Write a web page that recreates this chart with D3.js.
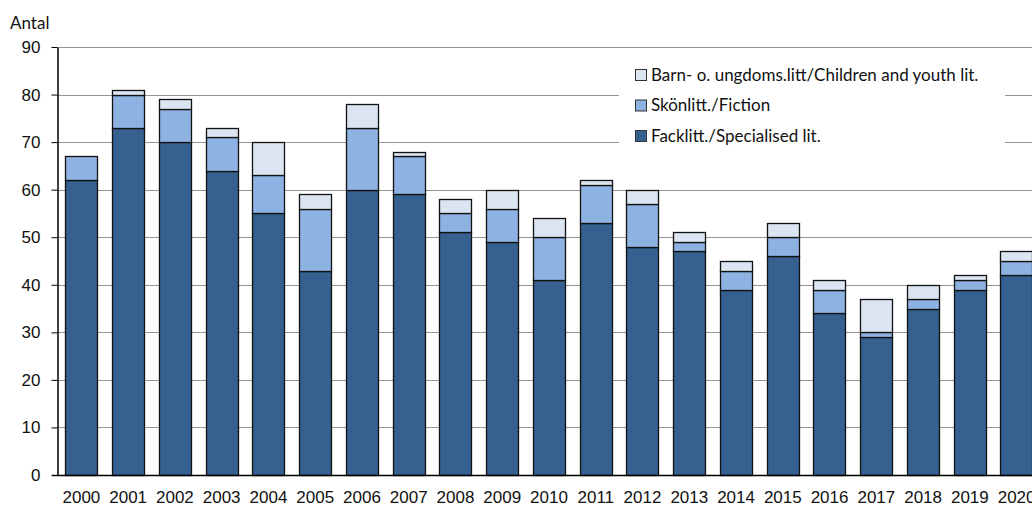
<!DOCTYPE html>
<html>
<head>
<meta charset="utf-8">
<script src="https://cdn.jsdelivr.net/npm/d3@7"></script>
<style>
  body { margin: 0; background: #fff; }
  svg { display: block; font-family: Lato, "Open Sans", sans-serif; }
</style>
</head>
<body>
<script>
// data
var years = ["2000","2001","2002","2003","2004","2005","2006","2007","2008","2009","2010",
             "2011","2012","2013","2014","2015","2016","2017","2018","2019","2020"];
var fack   = [62,73,70,64,55,43,60,59,51,49,41,53,48,47,39,46,34,29,35,39,42];
var fiction= [5,7,7,7,8,13,13,8,4,7,9,8,9,2,4,4,5,1,2,2,3];
var barn   = [0,1,2,2,7,3,5,1,3,4,4,1,3,2,2,3,2,7,3,1,2];
var seriesNames = ["Facklitt./Specialised lit.","Skönlitt./Fiction","Barn- o. ungdoms.litt/Children and youth lit."];
var colors = ["#36608f","#8eb3e2","#dbe5f1"];
var yTicks = [0,10,20,30,40,50,60,70,80,90];

var width = 1032, height = 507;
var margin = {left: 58, top: 47, right: -8, bottom: 32};
var fs = 17;

var svg = d3.select("body").append("svg")
  .attr("width", width)
  .attr("height", height);

var x = d3.scaleBand()
  .domain(years)
  .range([margin.left, width - margin.right])
  .paddingInner(0.31)
  .paddingOuter(0.155);

var y = d3.scaleLinear()
  .domain([0, 90])
  .range([height - margin.bottom, margin.top]);

// gridlines
svg.append("g")
  .selectAll("line")
  .data(yTicks.filter(function(d){ return d > 0; }))
  .enter().append("line")
  .attr("x1", margin.left)
  .attr("x2", width)
  .attr("y1", function(d){ return Math.round(y(d)) + 0.5; })
  .attr("y2", function(d){ return Math.round(y(d)) + 0.5; })
  .attr("stroke", "#959595")
  .attr("stroke-width", 1);

// legend box (white, hides gridlines)
svg.append("rect")
  .attr("x", 619).attr("y", 58)
  .attr("width", 386).attr("height", 92)
  .attr("fill", "#fff");

// stacked data
var table = years.map(function(yr, i){
  return {year: yr, fack: fack[i], fiction: fiction[i], barn: barn[i]};
});
var stack = d3.stack().keys(["fack","fiction","barn"]);
var layers = stack(table);

svg.append("g")
  .selectAll("g")
  .data(layers)
  .enter().append("g")
  .attr("fill", function(d, i){ return colors[i]; })
  .selectAll("rect")
  .data(function(d){ return d.filter(function(p){ return p[1] > p[0]; }); })
  .enter().append("rect")
  .attr("x", function(d){ return Math.round(x(d.data.year)) + 0.5; })
  .attr("y", function(d){ return Math.round(y(d[1])) + 0.5; })
  .attr("width", Math.round(x.bandwidth()))
  .attr("height", function(d){ return Math.round(y(d[0])) - Math.round(y(d[1])); })
  .attr("stroke", "#111")
  .attr("stroke-width", 1.3);

// y axis
var yAxis = svg.append("g")
  .attr("transform", "translate(" + (margin.left - 0.5) + ",0)")
  .call(d3.axisLeft(y).tickValues(yTicks).tickSize(6).tickSizeOuter(0).tickPadding(11));
yAxis.select(".domain").attr("stroke", "#000").attr("stroke-width", 1.5);
yAxis.selectAll(".tick line").attr("stroke", "#000");
yAxis.selectAll("text").attr("font-size", fs).attr("fill", "#111");

// x axis
var xAxis = svg.append("g")
  .attr("transform", "translate(0," + (Math.round(y(0)) + 0.5) + ")")
  .call(d3.axisBottom(x).tickSize(0).tickPadding(15));
xAxis.select(".domain").attr("stroke", "#000").attr("stroke-width", 1.5)
  .attr("d", "M" + (margin.left - 6) + ",0H" + width);
xAxis.selectAll("text").attr("font-size", fs).attr("fill", "#111");

// axis title
svg.append("text")
  .attr("x", 10).attr("y", 29)
  .attr("font-size", fs)
  .attr("fill", "#111")
  .text("Antal");

// legend
var legendOrder = [2, 1, 0];
var leg = svg.append("g").selectAll("g")
  .data(legendOrder)
  .enter().append("g")
  .attr("transform", function(d, i){ return "translate(635," + (69 + i * 30.5) + ")"; });
leg.append("rect")
  .attr("x", 0.5).attr("y", 0.5)
  .attr("width", 11).attr("height", 11)
  .attr("fill", function(d){ return colors[d]; })
  .attr("stroke", "#333");
leg.append("text")
  .attr("x", 16).attr("y", 11.5)
  .attr("font-size", fs)
  .attr("fill", "#111")
  .text(function(d){ return seriesNames[d]; });
</script>
</body>
</html>
